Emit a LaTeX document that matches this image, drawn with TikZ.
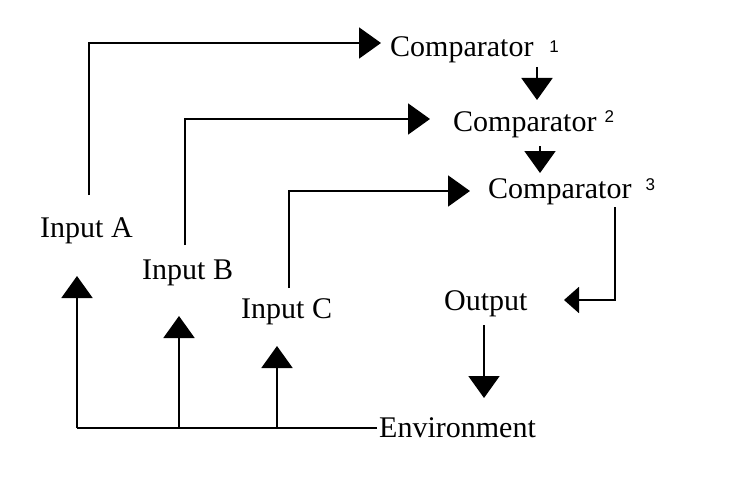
\documentclass[tikz,border=0pt]{standalone}
\usepackage{fontspec}
\setmainfont{Liberation Serif}
\newfontfamily\supfont{Liberation Sans}
\usetikzlibrary{arrows.meta}
\tikzset{
  lbl/.style={anchor=base west, inner sep=0pt, font=\fontsize{30}{33}\selectfont},
  conn/.style={line width=2pt, -{Triangle[width=31pt,length=22pt]}},
  connsm/.style={line width=2pt, -{Triangle[width=26pt,length=15pt]}},
}
\newcommand{\supnum}[2]{\raisebox{#1}{\fontsize{17}{17}\selectfont\supfont #2}}
\begin{document}
\begin{tikzpicture}[x=1pt,y=-1pt]
\useasboundingbox[fill=white] (0,0) rectangle (735,500);
% labels
\node[lbl] (c1) at (390,57) {Comparator\hspace{16pt}\supnum{4pt}{1}};
\node[lbl] (c2) at (453,131) {Comparator\hspace{8pt}\supnum{9pt}{2}};
\node[lbl] (c3) at (488,198) {Comparator\hspace{14pt}\supnum{8pt}{3}};
\node[lbl] (ia) at (40,237) {Input A};
\node[lbl] (ib) at (142,279) {Input B};
\node[lbl] (ic) at (241,318) {Input C};
\node[lbl] (out) at (444,310) {Output};
\node[lbl] (env) at (379,437) {Environment};
% coordinates
\coordinate (a0) at (89,195);
\coordinate (a1) at (89,43);
\coordinate (a2) at (381,43);
\coordinate (b0) at (185,245);
\coordinate (b1) at (185,119);
\coordinate (b2) at (430,119);
\coordinate (d0) at (289,288);
\coordinate (d1) at (289,191);
\coordinate (d2) at (470,191);
\coordinate (c12a) at (537,67);
\coordinate (c12b) at (537,100);
\coordinate (c23a) at (540,146);
\coordinate (c23b) at (540,173);
\coordinate (o0) at (615,207);
\coordinate (o1) at (615,300);
\coordinate (o2) at (564,300);
\coordinate (e0) at (484,325);
\coordinate (e1) at (484,398);
\coordinate (f0) at (377,428);
\coordinate (fa) at (77,428);
\coordinate (fb) at (179,428);
\coordinate (fc) at (277,428);
\coordinate (ta) at (77,276);
\coordinate (tb) at (179,316);
\coordinate (tc) at (277,346);
% connectors
\draw[conn] (a0) -- (a1) -- (a2);
\draw[conn] (b0) -- (b1) -- (b2);
\draw[conn] (d0) -- (d1) -- (d2);
\draw[conn] (c12a) -- (c12b);
\draw[conn] (c23a) -- (c23b);
\draw[connsm] (o0) -- (o1) -- (o2);
\draw[conn] (e0) -- (e1);
\draw[line width=2pt] (f0) -- (fa);
\draw[conn] (fa) -- (ta);
\draw[conn] (fb) -- (tb);
\draw[conn] (fc) -- (tc);
\end{tikzpicture}
\end{document}
